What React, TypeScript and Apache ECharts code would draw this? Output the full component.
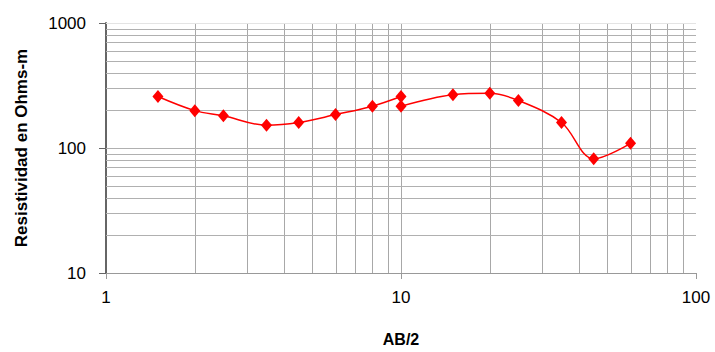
import React, { useEffect, useRef } from "react";
import * as echarts from "echarts";

const abHalf = [1.5, 2, 2.5, 3.5, 4.5, 6, 8, 10, 10, 15, 20, 25, 35, 45, 60];
const resistivity = [258, 199, 181, 152, 160, 185, 216, 258, 216, 267, 274, 240, 160, 82, 109];
const xGridValues = [2, 3, 4, 5, 6, 7, 8, 9, 10, 20, 30, 40, 50, 60, 70, 80, 90];
const yGridValues = [20, 30, 40, 50, 60, 70, 80, 90, 100, 200, 300, 400, 500, 600, 700, 800, 900, 1000];
const xTickLabels = ["1", "10", "100"];
const yTickLabels = ["10", "100", "1000"];

export default function App() {
  const ref = useRef<HTMLDivElement>(null);
  useEffect(() => {
    if (!ref.current) return;
    const chart = echarts.init(ref.current, null, { renderer: "svg" });
    const gridData: number[][] = [
      ...xGridValues.map((v) => [v, 100, 0]),
      ...yGridValues.map((v) => [10, v, 1]),
    ];
    const font = "'Liberation Sans', Arial, sans-serif";
    chart.setOption({
      animation: false,
      grid: { left: 106, right: 19, top: 23, bottom: 75, containLabel: false },
      xAxis: {
        type: "log",
        min: 1,
        max: 100,
        logBase: 10,
        name: "AB/2",
        nameLocation: "middle",
        nameGap: 58,
        nameTextStyle: { fontFamily: font, fontSize: 16, fontWeight: "bold", color: "#000" },
        axisLine: { show: true, lineStyle: { color: "#999", width: 1 } },
        axisTick: { show: true, length: 6, lineStyle: { color: "#999" } },
        axisLabel: {
          fontFamily: font,
          fontSize: 17,
          color: "#000",
          margin: 16,
          formatter: (v: number) => xTickLabels[Math.round(Math.log10(v))] ?? "",
        },
        splitLine: { show: false },
        minorTick: { show: false },
      },
      yAxis: {
        type: "log",
        min: 10,
        max: 1000,
        logBase: 10,
        name: "Resistividad en Ohms-m",
        nameLocation: "middle",
        nameRotate: 90,
        nameGap: 76,
        nameTextStyle: { fontFamily: font, fontSize: 17, fontWeight: "bold", color: "#000" },
        axisLine: { show: true, lineStyle: { color: "#666", width: 2 } },
        axisTick: { show: true, length: 7, lineStyle: { color: "#666" } },
        axisLabel: {
          fontFamily: font,
          fontSize: 17,
          color: "#000",
          margin: 20,
          formatter: (v: number) => yTickLabels[Math.round(Math.log10(v)) - 1] ?? "",
        },
        splitLine: { show: false },
      },
      series: [
        {
          type: "custom",
          z: 1,
          silent: true,
          clip: false,
          data: gridData,
          renderItem: (params: any, api: any) => {
            const kind = api.value(2);
            let p1: number[];
            let p2: number[];
            if (kind === 0) {
              const v = api.value(0);
              p1 = api.coord([v, 10]);
              p2 = api.coord([v, 1000]);
              const x = Math.round(p1[0]) + 0.5;
              return {
                type: "line",
                shape: { x1: x, y1: p1[1], x2: x, y2: p2[1] },
                style: { stroke: "#a8a8a8", lineWidth: 1 },
              };
            } else {
              const v = api.value(1);
              p1 = api.coord([1, v]);
              p2 = api.coord([100, v]);
              const y = Math.round(p1[1]) + 0.5;
              return {
                type: "line",
                shape: { x1: p1[0], y1: y, x2: p2[0], y2: y },
                style: { stroke: v === 1000 ? "#e4e4e4" : "#b0b0b0", lineWidth: 1 },
              };
            }
          },
        },
        {
          type: "line",
          z: 3,
          data: abHalf.map((x, i) => [x, resistivity[i]]),
          smooth: 0.35,
          symbol: "diamond",
          symbolSize: [11, 13],
          itemStyle: { color: "#ff0000" },
          lineStyle: { color: "#ff0000", width: 1.5 },
        },
      ],
    });
    return () => chart.dispose();
  }, []);
  return <div ref={ref} style={{ width: 715, height: 352, position: "absolute", left: 0, top: 0 }} />;
}
